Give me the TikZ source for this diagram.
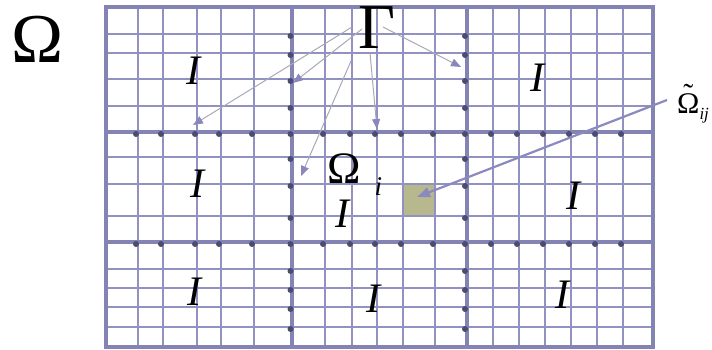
\documentclass[tikz,border=0pt]{standalone}
\usepackage{fontspec}
\setmainfont{Liberation Serif}
\usetikzlibrary{arrows.meta}
\definecolor{gridc}{HTML}{9292C2}
\definecolor{thickc}{HTML}{8484B4}
\definecolor{dotc}{HTML}{4C4C72}
\definecolor{cellc}{HTML}{B8B88E}
\definecolor{garrow}{HTML}{A8A8B8}
\definecolor{headc}{HTML}{8888BC}
\definecolor{bigarrow}{HTML}{8A8AC0}
\tikzset{
  thingrid/.style={draw=gridc, line width=1.3pt},
  thickgrid/.style={draw=thickc, line width=3.6pt},
  framegrid/.style={draw=thickc, line width=4pt},
  gdot/.style={fill=dotc},
  garr/.style={draw=garrow, line width=1pt, -{Triangle[length=10pt,width=8pt,color=headc]}},
  barr/.style={draw=bigarrow, line width=2.2pt, -{Triangle[length=13pt,width=10pt]}},
  ilabel/.style={inner sep=0pt, font=\fontsize{42}{42}\selectfont\itshape},
}
\begin{document}
\begin{tikzpicture}[x=1pt,y=-1pt]
\useasboundingbox (0,0) rectangle (712,349);
% thin grid
\foreach \x in {138,163,197,221,254,325,352,377,403,435,493,519,545,571,597,623}
  \draw[thingrid] (\x,7) -- (\x,347);
\foreach \y in {34,53,79,106,157,184,216,269,288,307,327}
  \draw[thingrid] (106,\y) -- (653,\y);
% sub-domain cell
\fill[cellc] (403.7,184.7) rectangle (434.3,215.3);
% thick interfaces
\draw[thickgrid] (292,7) -- (292,347);
\draw[thickgrid] (467,7) -- (467,347);
\draw[thickgrid] (106,132) -- (653,132);
\draw[thickgrid] (106,242) -- (653,242);
\draw[framegrid] (106,7) rectangle (653,347);
% dots on vertical interfaces
\foreach \y in {34,53,79,106,132,157,184,216,242,269,288,307,327}{
  \fill[gdot] (290.5,\y+2) circle (3);
  \fill[gdot] (465,\y+2) circle (3);
}
% dots on horizontal interfaces
\foreach \x in {138,163,197,221,254,325,352,377,403,435,493,519,545,571,597,623}{
  \fill[gdot] (\x-2,134) circle (3);
  \fill[gdot] (\x-2,244) circle (3);
}
% labels
\node[inner sep=0pt, font=\fontsize{70}{70}\selectfont] (Om) at (38,39) {Ω};
\node[inner sep=0pt, font=\fontsize{64}{64}\selectfont] (Gam) at (377,28) {Γ};
\node[ilabel] (I1) at (193,71) {I};
\node[ilabel] (I2) at (537,78) {I};
\node[ilabel] (I3) at (197,184) {I};
\node[ilabel] (I4) at (342,214) {I};
\node[ilabel] (I5) at (573,196) {I};
\node[ilabel] (I6) at (194,292) {I};
\node[ilabel] (I7) at (373,299) {I};
\node[ilabel] (I8) at (562,295) {I};
\node[inner sep=0pt, anchor=base west] (Omi) at (327,183)
  {\fontsize{45}{45}\selectfont Ω\hspace{14pt}\raisebox{-12pt}{\fontsize{27}{27}\selectfont\itshape i}};
\node[inner sep=0pt, anchor=base west] (Omt) at (677,113)
  {\fontsize{30}{30}\selectfont\ooalign{Ω\cr\hidewidth\raisebox{9pt}{˜}\hidewidth\cr}\raisebox{-6pt}{\fontsize{17}{17}\selectfont\itshape ij}};
% Gamma arrows
\coordinate (g1) at (352,27);
\coordinate (g2) at (362,29);
\coordinate (g3) at (351,61);
\coordinate (g4) at (370,53);
\coordinate (g5) at (383,27);
\coordinate (e1) at (193,125);
\coordinate (e2) at (293,83);
\coordinate (e3) at (301,176);
\coordinate (e4) at (377,129);
\coordinate (e5) at (461,67);
\draw[garr] (g1) -- (e1);
\draw[garr] (g2) -- (e2);
\draw[garr] (g3) -- (e3);
\draw[garr] (g4) -- (e4);
\draw[garr] (g5) -- (e5);
% Omega tilde arrow
\coordinate (ts) at (667,100);
\coordinate (te) at (417,197);
\draw[barr] (ts) -- (te);
\end{tikzpicture}
\end{document}
